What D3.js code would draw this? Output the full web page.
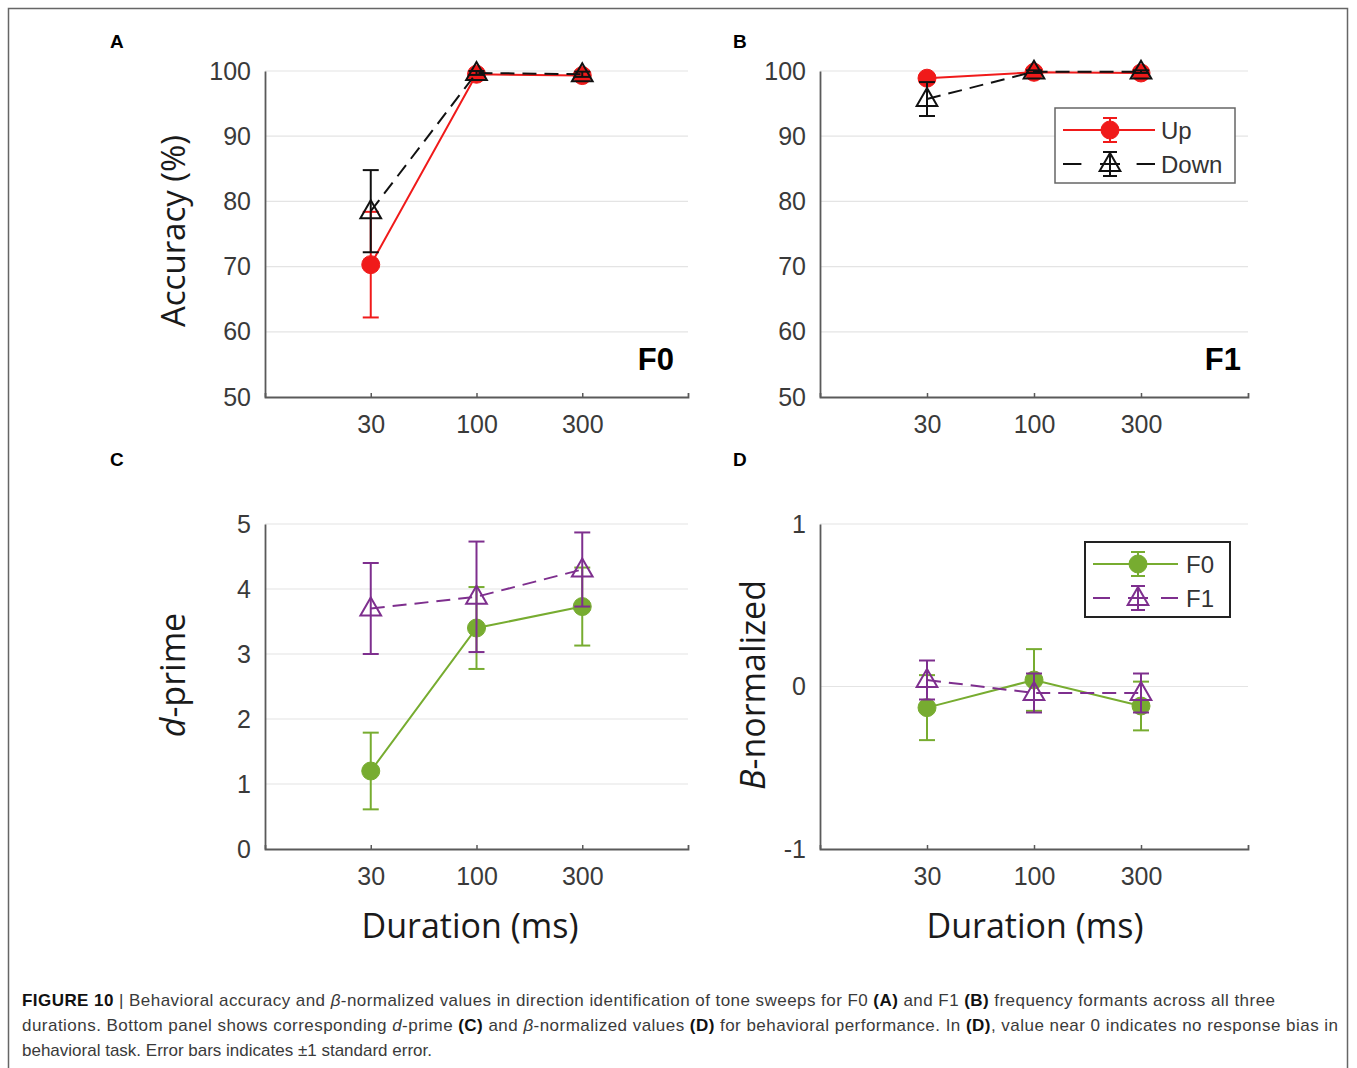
<!DOCTYPE html>
<html>
<head>
<meta charset="utf-8">
<script src="https://cdn.jsdelivr.net/npm/d3@7/dist/d3.min.js"></script>
<style>
  html, body { margin: 0; padding: 0; background: #fff; }
  svg { display: block; }
</style>
</head>
<body>
<svg id="chart" width="1357" height="1068"></svg>
<script>
// ---------------- DATA ----------------
const durations = ["30", "100", "300"];

const accTicks = [50, 60, 70, 80, 90, 100];
const dprimeTicks = [0, 1, 2, 3, 4, 5];
const betaTicks = [-1, 0, 1];

// Panel A (F0) accuracy
const accF0Up = [70.3, 99.5, 99.3];
const accF0UpErr = [8.1, 0.4, 0.5];
const accF0Down = [78.5, 99.7, 99.5];
const accF0DownErr = [6.3, 0.3, 0.4];

// Panel B (F1) accuracy
const accF1Up = [98.9, 99.8, 99.7];
const accF1UpErr = [0.6, 0.2, 0.3];
const accF1Down = [95.7, 99.9, 99.9];
const accF1DownErr = [2.6, 0.2, 0.2];

// Panel C d-prime
const dprimeF0 = [1.2, 3.4, 3.73];
const dprimeF0Err = [0.59, 0.63, 0.6];
const dprimeF1 = [3.7, 3.88, 4.3];
const dprimeF1Err = [0.7, 0.85, 0.57];

// Panel D beta-normalized
const betaF0 = [-0.13, 0.04, -0.12];
const betaF0Err = [0.2, 0.19, 0.15];
const betaF1 = [0.04, -0.04, -0.04];
const betaF1Err = [0.12, 0.12, 0.12];

// ---------------- STYLE ----------------
const RED = "#f01a1a";
const BLACK = "#111";
const GREEN = "#77ac30";
const PURPLE = "#7e2f8e";
const AXIS = "#5a5a5a";
const GRID = "#e4e4e4";
const TICKTXT = "#3a3a3a";

const svg = d3.select("#chart");

// Outer frame
svg.append("rect").attr("x", 8.5).attr("y", 8.5).attr("width", 1339).attr("height", 1100)
  .attr("fill", "none").attr("stroke", "#666").attr("stroke-width", 1.5);

function panel(opts) {
  const g = svg.append("g");
  const x = d3.scaleLinear().domain([0, 4]).range([opts.x0, opts.x1]);
  const y = d3.scaleLinear().domain(opts.ydomain).range([opts.y0, opts.y1]);

  // gridlines
  g.append("g").selectAll("line").data(opts.yticks.slice(1)).join("line")
    .attr("x1", opts.x0).attr("x2", opts.x1)
    .attr("y1", d => y(d)).attr("y2", d => y(d))
    .attr("stroke", GRID).attr("stroke-width", 1.2);

  // y axis
  const ya = g.append("g").attr("transform", `translate(${opts.x0},0)`)
    .call(d3.axisLeft(y).tickValues(opts.yticks).tickSize(0).tickPadding(14)
      .tickFormat(d => String(d)));
  ya.select(".domain").attr("stroke", AXIS).attr("stroke-width", 1.8);
  ya.selectAll("text").attr("font-family", "'Liberation Sans', Arial, sans-serif")
    .attr("font-size", 25).attr("fill", TICKTXT);

  // x axis
  const xa = g.append("g").attr("transform", `translate(0,${opts.y0})`)
    .call(d3.axisBottom(x).tickValues([1, 2, 3]).tickSize(-4).tickPadding(18)
      .tickFormat((d, i) => durations[i]));
  xa.select(".domain").attr("stroke", AXIS).attr("stroke-width", 1.8);
  xa.selectAll(".tick line").attr("stroke", AXIS).attr("stroke-width", 1.5);
  xa.selectAll("text").attr("font-family", "'Liberation Sans', Arial, sans-serif")
    .attr("font-size", 25).attr("fill", TICKTXT);

  // panel letter
  g.append("text").attr("x", opts.letterX).attr("y", opts.letterY).text(opts.letter)
    .attr("font-family", "'Liberation Sans', Arial, sans-serif").attr("font-weight", "bold")
    .attr("font-size", 19).attr("fill", "#000");

  return { g, x, y };
}

function series(p, vals, errs, color, dashed, marker) {
  const { g, x, y } = p;
  const sg = g.append("g");
  const line = d3.line().x((d, i) => x(i + 1)).y(d => y(d));
  sg.append("path").datum(vals).attr("d", line).attr("fill", "none")
    .attr("stroke", color).attr("stroke-width", 2)
    .attr("stroke-dasharray", dashed ? "14,8" : null);
  // error bars
  const eb = sg.append("g").selectAll("g").data(vals).join("g");
  eb.append("line").attr("x1", (d, i) => x(i + 1)).attr("x2", (d, i) => x(i + 1))
    .attr("y1", (d, i) => y(d - errs[i])).attr("y2", (d, i) => y(d + errs[i]))
    .attr("stroke", color).attr("stroke-width", 2);
  [-1, 1].forEach(s => {
    eb.append("line").attr("x1", (d, i) => x(i + 1) - 8).attr("x2", (d, i) => x(i + 1) + 8)
      .attr("y1", (d, i) => y(d + s * errs[i])).attr("y2", (d, i) => y(d + s * errs[i]))
      .attr("stroke", color).attr("stroke-width", 2);
  });
  // markers
  drawMarkers(sg, vals.map((d, i) => [x(i + 1), y(d)]), color, marker);
}

function drawMarkers(sg, pts, color, marker) {
  if (marker === "circle") {
    sg.selectAll("circle.m").data(pts).join("circle").attr("class", "m")
      .attr("cx", d => d[0]).attr("cy", d => d[1]).attr("r", 9)
      .attr("fill", color).attr("stroke", color).attr("stroke-width", 1);
  } else {
    const tri = d3.symbol().type(d3.symbolTriangle).size(185);
    sg.selectAll("path.m").data(pts).join("path").attr("class", "m")
      .attr("transform", d => `translate(${d[0]},${d[1] + 1})`)
      .attr("d", tri).attr("fill", "none").attr("stroke", color).attr("stroke-width", 2);
  }
}

function axisTitle(cx, cy, parts, size) {
  const t = svg.append("text")
    .attr("transform", `translate(${cx},${cy}) rotate(-90)`)
    .attr("text-anchor", "middle").attr("dominant-baseline", "central")
    .attr("font-family", "'Open Sans', sans-serif").attr("font-size", size).attr("fill", "#1a1a1a");
  parts.forEach(pt => t.append("tspan").text(pt.t).attr("font-style", pt.i ? "italic" : null));
}

function xTitle(cx, cy) {
  svg.append("text").attr("x", cx).attr("y", cy).attr("text-anchor", "middle")
    .attr("font-family", "'Open Sans', sans-serif").attr("font-size", 34).attr("fill", "#1a1a1a")
    .text("Duration (ms)");
}

function legend(x0, y0, w, h, items, stroke, sw, lineX0, lineX1, markX, textX) {
  const lg = svg.append("g");
  lg.append("rect").attr("x", x0).attr("y", y0).attr("width", w).attr("height", h)
    .attr("fill", "#fff").attr("stroke", stroke).attr("stroke-width", sw);
  items.forEach((it, k) => {
    const yy = y0 + 22 + k * 34;
    if (it.dashed) {
      const seg = (lineX1 - lineX0);
      lg.append("line").attr("x1", lineX0).attr("x2", lineX0 + seg * 0.2).attr("y1", yy).attr("y2", yy)
        .attr("stroke", it.color).attr("stroke-width", 2);
      lg.append("line").attr("x1", markX - 10).attr("x2", markX + 10).attr("y1", yy).attr("y2", yy)
        .attr("stroke", it.color).attr("stroke-width", 2);
      lg.append("line").attr("x1", lineX1 - seg * 0.2).attr("x2", lineX1).attr("y1", yy).attr("y2", yy)
        .attr("stroke", it.color).attr("stroke-width", 2);
    } else {
      lg.append("line").attr("x1", lineX0).attr("x2", lineX1).attr("y1", yy).attr("y2", yy)
        .attr("stroke", it.color).attr("stroke-width", 2);
    }
    lg.append("line").attr("x1", markX).attr("x2", markX).attr("y1", yy - 12).attr("y2", yy + 12)
      .attr("stroke", it.color).attr("stroke-width", 2);
    [-12, 12].forEach(o => lg.append("line").attr("x1", markX - 7).attr("x2", markX + 7)
      .attr("y1", yy + o).attr("y2", yy + o).attr("stroke", it.color).attr("stroke-width", 2));
    drawMarkers(lg.append("g"), [[markX, yy]], it.color, it.marker);
    lg.append("text").attr("x", textX).attr("y", yy).attr("dominant-baseline", "central")
      .attr("font-family", "'Liberation Sans', Arial, sans-serif").attr("font-size", 24)
      .attr("fill", "#333").text(it.label);
  });
}

// ---------------- PANELS ----------------
const pA = panel({ x0: 265, x1: 688, y0: 397, y1: 71, ydomain: [50, 100], yticks: accTicks,
  letter: "A", letterX: 110, letterY: 48 });
series(pA, accF0Up, accF0UpErr, RED, false, "circle");
series(pA, accF0Down, accF0DownErr, BLACK, true, "triangle");
svg.append("text").attr("x", 674).attr("y", 370).attr("text-anchor", "end")
  .attr("font-family", "'Liberation Sans', Arial, sans-serif").attr("font-weight", "bold")
  .attr("font-size", 31).attr("fill", "#000").text("F0");
axisTitle(172, 231, [{ t: "Accuracy (%)" }], 33);

const pB = panel({ x0: 820, x1: 1248, y0: 397, y1: 71, ydomain: [50, 100], yticks: accTicks,
  letter: "B", letterX: 733, letterY: 48 });
series(pB, accF1Up, accF1UpErr, RED, false, "circle");
series(pB, accF1Down, accF1DownErr, BLACK, true, "triangle");
svg.append("text").attr("x", 1241).attr("y", 370).attr("text-anchor", "end")
  .attr("font-family", "'Liberation Sans', Arial, sans-serif").attr("font-weight", "bold")
  .attr("font-size", 31).attr("fill", "#000").text("F1");
legend(1055, 108, 180, 75, [
  { label: "Up", color: RED, dashed: false, marker: "circle" },
  { label: "Down", color: BLACK, dashed: true, marker: "triangle" }
], "#666", 1.5, 1063, 1155, 1110, 1161);

const pC = panel({ x0: 265, x1: 688, y0: 849, y1: 524, ydomain: [0, 5], yticks: dprimeTicks,
  letter: "C", letterX: 110, letterY: 466 });
series(pC, dprimeF0, dprimeF0Err, GREEN, false, "circle");
series(pC, dprimeF1, dprimeF1Err, PURPLE, true, "triangle");
axisTitle(172, 675, [{ t: "d", i: true }, { t: "-prime" }], 34);
xTitle(470, 938);

const pD = panel({ x0: 820, x1: 1248, y0: 849, y1: 524, ydomain: [-1, 1], yticks: betaTicks,
  letter: "D", letterX: 733, letterY: 466 });
series(pD, betaF0, betaF0Err, GREEN, false, "circle");
series(pD, betaF1, betaF1Err, PURPLE, true, "triangle");
axisTitle(752, 685, [{ t: "B", i: true }, { t: "-normalized" }], 34);
xTitle(1035, 938);
legend(1085, 542, 145, 75, [
  { label: "F0", color: GREEN, dashed: false, marker: "circle" },
  { label: "F1", color: PURPLE, dashed: true, marker: "triangle" }
], "#222", 2, 1093, 1178, 1138, 1186);

// ---------------- CAPTION ----------------
const capLines = [
  { y: 1006, len: 1253, parts: [
    { t: "FIGURE 10", b: true }, { t: " | Behavioral accuracy and " }, { t: "β", i: true },
    { t: "-normalized values in direction identification of tone sweeps for F0 " }, { t: "(A)", b: true },
    { t: " and F1 " }, { t: "(B)", b: true }, { t: " frequency formants across all three" } ] },
  { y: 1031, len: 1316, parts: [
    { t: "durations. Bottom panel shows corresponding " }, { t: "d", i: true }, { t: "-prime " },
    { t: "(C)", b: true }, { t: " and " }, { t: "β", i: true }, { t: "-normalized values " },
    { t: "(D)", b: true }, { t: " for behavioral performance. In " }, { t: "(D)", b: true },
    { t: ", value near 0 indicates no response bias in" } ] },
  { y: 1056, len: null, parts: [
    { t: "behavioral task. Error bars indicates ±1 standard error." } ] }
];
capLines.forEach(l => {
  const t = svg.append("text").attr("x", 22).attr("y", l.y)
    .attr("font-family", "'Liberation Sans Narrow', 'Liberation Sans', Arial, sans-serif")
    .attr("font-size", 17).attr("fill", "#3a3a3a");
  if (l.len) t.attr("textLength", l.len).attr("lengthAdjust", "spacing");
  l.parts.forEach(p => t.append("tspan").text(p.t)
    .attr("font-weight", p.b ? "bold" : null).attr("font-style", p.i ? "italic" : null)
    .attr("fill", p.b ? "#111" : null));
});
</script>
</body>
</html>
